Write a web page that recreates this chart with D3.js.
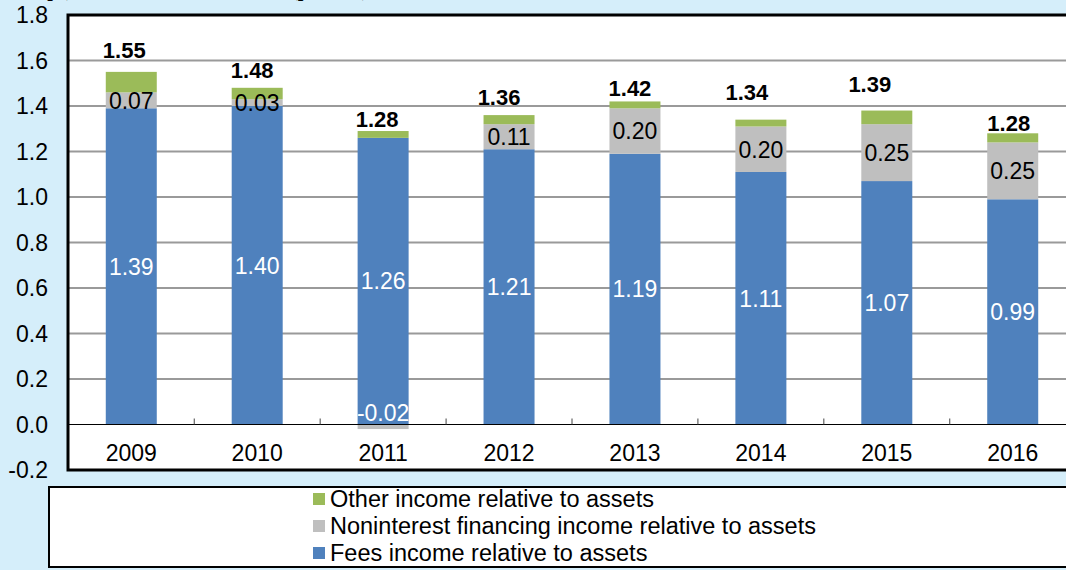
<!DOCTYPE html>
<html>
<head>
<meta charset="utf-8">
<script src="https://cdn.jsdelivr.net/npm/d3@7"></script>
<style>
  body { margin: 0; background: #d5eefa; }
  text { font-family: Arial, "Liberation Sans", sans-serif; }
</style>
</head>
<body>
<svg id="chart"></svg>
<script>
var years = ["2009", "2010", "2011", "2012", "2013", "2014", "2015", "2016"];
var fees = [1.39, 1.40, 1.26, 1.21, 1.19, 1.11, 1.07, 0.99];
var noninterest = [0.07, 0.03, -0.02, 0.11, 0.20, 0.20, 0.25, 0.25];
var other = [0.09, 0.05, 0.03, 0.04, 0.03, 0.03, 0.06, 0.04];
var totals = ["1.55", "1.48", "1.28", "1.36", "1.42", "1.34", "1.39", "1.28"];
var yTicks = [-0.2, 0, 0.2, 0.4, 0.6, 0.8, 1.0, 1.2, 1.4, 1.6, 1.8];
var seriesNames = ["Fees income relative to assets",
                   "Noninterest financing income relative to assets",
                   "Other income relative to assets"];

// hand-placed total labels (as in the original)
var totalDx = [-7, -5, -6, -10, -5, -14, -17, -4],
    totalDy = [-22, -18, -12, -18, -13, -28, -26, -10];

var width = 1066,
    height = 570;

var colors = {fees: "#4f81bd", noninterest: "#bfbfbf", other: "#9bbb59"};

var svg = d3.select("#chart")
    .attr("width", width)
    .attr("height", height);

svg.append("rect")
    .attr("width", width)
    .attr("height", height)
    .attr("fill", "#d5eefa");

// cut-off title at the very top
svg.append("text")
    .attr("x", 2)
    .attr("y", -4)
    .style("font-family", "'Liberation Serif', serif")
    .style("font-weight", "bold")
    .style("font-size", "20px")
    .text("Groups) Income Relative to Total (percent),");

var plotLeft = 68, plotTop = 15, plotBottom = 470;

var x = d3.scaleBand()
    .domain(years)
    .range([plotLeft, 1076])
    .paddingInner(0.595)
    .paddingOuter(0.3);

var y = d3.scaleLinear()
    .domain([-0.2, 1.8])
    .range([plotBottom, plotTop]);

svg.append("rect")
    .attr("x", plotLeft)
    .attr("y", plotTop)
    .attr("width", 1100)
    .attr("height", plotBottom - plotTop)
    .attr("fill", "white");

// gridlines
svg.selectAll(".grid")
    .data(yTicks.filter(function(d) { return d > 0.01 && d < 1.7; }))
  .enter().append("line")
    .attr("class", "grid")
    .attr("x1", plotLeft)
    .attr("x2", width)
    .attr("y1", d => y(d))
    .attr("y2", d => y(d))
    .attr("stroke", "#9a9a9a")
    .attr("stroke-width", 2);

var data = years.map(function(yr, i) {
  return {year: yr, fees: fees[i], noninterest: noninterest[i], other: other[i], total: totals[i]};
});

var stack = d3.stack()
    .keys(["fees", "noninterest", "other"])
    .offset(d3.stackOffsetDiverging);

var layers = stack(data);

svg.append("g").selectAll("g")
    .data(layers)
  .enter().append("g")
    .attr("fill", d => colors[d.key])
  .selectAll("rect")
    .data(d => d)
  .enter().append("rect")
    .attr("x", d => x(d.data.year))
    .attr("width", x.bandwidth())
    .attr("y", d => y(Math.max(d[0], d[1])))
    .attr("height", d => Math.abs(y(d[0]) - y(d[1])));

// zero line and category ticks
svg.append("line")
    .attr("x1", plotLeft)
    .attr("x2", width)
    .attr("y1", y(0))
    .attr("y2", y(0))
    .attr("stroke", "#000")
    .attr("stroke-width", 1.2);

svg.selectAll(".xtick")
    .data(years.slice(1))
  .enter().append("line")
    .attr("class", "xtick")
    .attr("x1", d => x(d) - x.step() * x.paddingInner() / 2)
    .attr("x2", d => x(d) - x.step() * x.paddingInner() / 2)
    .attr("y1", y(0) - 6)
    .attr("y2", y(0))
    .attr("stroke", "#444");

// frame
svg.append("path")
    .attr("d", "M" + (width + 5) + "," + plotTop + "H" + plotLeft + "V" + plotBottom + "H" + (width + 5))
    .attr("fill", "none")
    .attr("stroke", "#000")
    .attr("stroke-width", 3);

// plain hyphen for negatives, like the original
function num(spec) {
  var f = d3.format(spec);
  return function(v) { return f(v).replace("\u2212", "-"); };
}

// y labels
svg.selectAll(".ylab")
    .data(yTicks)
  .enter().append("text")
    .attr("class", "ylab")
    .attr("x", 48)
    .attr("y", d => y(d))
    .attr("dy", "0.36em")
    .attr("text-anchor", "end")
    .style("font-size", "23px")
    .text(num(".1f"));

// x labels
svg.selectAll(".xlab")
    .data(years)
  .enter().append("text")
    .attr("class", "xlab")
    .attr("x", d => x(d) + x.bandwidth() / 2)
    .attr("y", 461)
    .attr("text-anchor", "middle")
    .style("font-size", "23px")
    .text(d => d);

// segment labels
var fmt = num(".2f");
layers.slice(0, 2).forEach(function(layer) {
  svg.append("g").selectAll("text")
      .data(layer)
    .enter().append("text")
      .attr("x", d => x(d.data.year) + x.bandwidth() / 2)
      .attr("y", function(d) {
        var v = d.data[layer.key];
        if (v < 0) return y(0) - 12;
        return y((d[0] + d[1]) / 2);
      })
      .attr("dy", "0.36em")
      .attr("text-anchor", "middle")
      .attr("fill", function(d) {
        return (layer.key == "fees" || d.data[layer.key] < 0) ? "white" : "black";
      })
      .style("font-size", "23px")
      .text(d => fmt(d.data[layer.key]));
});

// totals
var topLayer = layers[2];
svg.append("g").selectAll("text")
    .data(topLayer)
  .enter().append("text")
    .attr("x", (d, i) => x(d.data.year) + x.bandwidth() / 2 + totalDx[i])
    .attr("y", (d, i) => y(d[1]) + totalDy[i])
    .attr("dy", "0.36em")
    .attr("text-anchor", "middle")
    .style("font-size", "22px")
    .style("font-weight", "bold")
    .text(d => d.data.total);

// legend
svg.append("rect")
    .attr("x", 49)
    .attr("y", 487)
    .attr("width", 1100)
    .attr("height", 80)
    .attr("fill", "white")
    .attr("stroke", "#000")
    .attr("stroke-width", 2);

var legendItems = [
  {name: seriesNames[2], color: colors.other},
  {name: seriesNames[1], color: colors.noninterest},
  {name: seriesNames[0], color: colors.fees}
];

var leg = svg.append("g").selectAll("g")
    .data(legendItems)
  .enter().append("g")
    .attr("transform", (d, i) => "translate(313," + (499 + i * 27) + ")");

leg.append("rect")
    .attr("y", -6)
    .attr("width", 12)
    .attr("height", 12)
    .attr("fill", d => d.color);

leg.append("text")
    .attr("x", 17)
    .attr("dy", "0.36em")
    .style("font-size", "23.5px")
    .text(d => d.name);
</script>
</body>
</html>
